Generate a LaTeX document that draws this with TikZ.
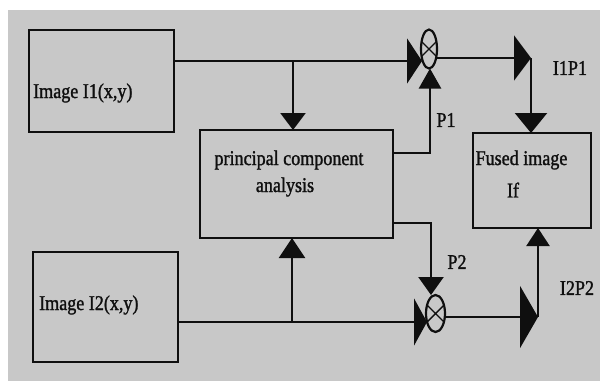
\documentclass[tikz,border=0pt]{standalone}
\usepackage{fontspec}
\setmainfont{Liberation Serif}[FakeStretch=0.86,FakeBold=1.3]
\usetikzlibrary{arrows.meta,shapes.geometric}
\definecolor{bg}{RGB}{200,200,200}
\definecolor{ink}{RGB}{15,15,15}
\begin{document}
\begin{tikzpicture}[x=1pt,y=-1pt,
  box/.style={draw=ink,line width=2.8pt,inner sep=0pt,outer sep=0pt},
  conn/.style={draw=ink,line width=2.4pt},
  mult/.style={ellipse,draw=ink,line width=2.2pt,inner sep=0pt,outer sep=0pt,fill=bg},
  txt/.style={text=ink,font=\fontsize{21}{24}\selectfont,inner sep=0pt},
  lbl/.style={text=ink,font=\fontsize{21}{24}\selectfont,inner sep=0pt}]
\useasboundingbox (0,0) rectangle (600,381);
\fill[white] (0,0) rectangle (600,381);
\fill[bg] (8,10) rectangle (600,381);

% boxes
\node[box,minimum width=145pt,minimum height=102pt] (img1) at (101.5,81) {};
\node[box,minimum width=145pt,minimum height=110pt] (img2) at (105.5,307) {};
\node[box,minimum width=193pt,minimum height=108pt] (pca) at (296.5,184) {};
\node[box,minimum width=118pt,minimum height=95pt] (fused) at (532,180.5) {};

% texts
\node[txt,anchor=west] (t1) at (33,93) {Image I1(x,y)};
\node[txt,anchor=west] (t2) at (39,305) {Image I2(x,y)};
\node[txt] (t3) at (289,160) {principal component};
\node[txt] (t4) at (285,187) {analysis};
\node[txt] (t5) at (521.5,160) {Fused image};
\node[txt] (t6) at (513,190) {If};

% multipliers
\node[mult,minimum width=16pt,minimum height=39pt] (m1) at (429,49) {};
\draw[ink,line width=1.4pt] (m1.45) -- (m1.225) (m1.135) -- (m1.315);
\node[mult,minimum width=19pt,minimum height=37pt] (m2) at (435.5,313.5) {};
\draw[ink,line width=1.4pt] (m2.45) -- (m2.225) (m2.135) -- (m2.315);

% junction coordinates
\coordinate (j1) at (293,61);
\coordinate (m1in) at (422,61);
\coordinate (p1s) at (393,153);
\coordinate (p1c) at (430,153);
\coordinate (c1) at (531,58);
\coordinate (j2) at (292,322);
\coordinate (m2in) at (427,322);
\coordinate (p2s) at (393,223);
\coordinate (p2c) at (431,223);
\coordinate (c2) at (538,317);

% top path
\draw[conn,-{Triangle[length=15pt,width=45pt]}] (img1.east |- m1in) -- (m1in);
\draw[conn,-{Triangle[length=17pt,width=25pt]}] (j1) -- (j1 |- pca.north);
\draw[conn,-{Triangle[length=20pt,width=22pt]}] (p1s) -- (p1c) -- (p1c |- m1.south);
\draw[conn,-{Triangle[length=17pt,width=45pt]}] (m1.east |- c1) -- (c1);
\draw[conn,-{Triangle[length=20pt,width=32pt]}] (c1) -- (c1 |- fused.north);

% bottom path
\draw[conn,-{Triangle[length=13pt,width=47pt]}] (img2.east |- m2in) -- (m2in);
\draw[conn,-{Triangle[length=20pt,width=26pt]}] (j2) -- (j2 |- pca.south);
\draw[conn,-{Triangle[length=18pt,width=25pt]}] (p2s) -- (p2c) -- (p2c |- m2.north);
\draw[conn,-{Triangle[length=18pt,width=62pt]}] (m2.east |- c2) -- (c2);
\draw[conn,-{Triangle[length=18pt,width=23pt]}] (c2) -- (c2 |- fused.south);

% labels
\node[lbl] (lp1) at (446,120) {P1};
\node[lbl] (lp2) at (457,262) {P2};
\node[lbl] (l11) at (570,68) {I1P1};
\node[lbl] (l22) at (577,288) {I2P2};
\end{tikzpicture}
\end{document}
